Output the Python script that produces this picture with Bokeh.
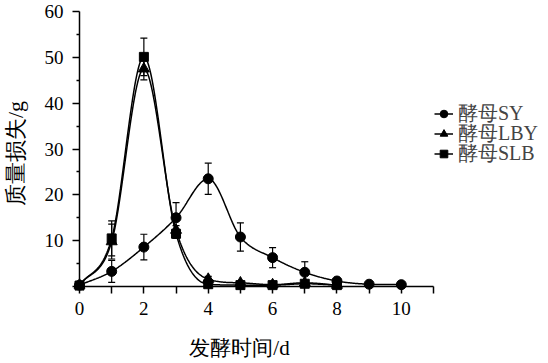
import numpy as np
from bokeh.plotting import figure
from bokeh.models import (Whisker, ColumnDataSource, Legend, LegendItem, FixedTicker,
                          Label, TeeHead, Range1d, LinearAxis)
from bokeh.embed import file_html
from bokeh.resources import INLINE

# ---- data ----
days_sy = [0, 1, 2, 3, 4, 5, 6, 7, 8, 9, 10]
sy = [0.3, 3.3, 8.6, 15.0, 23.5, 10.8, 6.3, 3.1, 1.2, 0.5, 0.4]
sy_err = [0.3, 2.4, 2.8, 3.3, 3.4, 3.1, 2.2, 2.3, 0.4, 0.2, 0.2]

days_b = [0, 1, 2, 3, 4, 5, 6, 7, 8]
lby = [0.3, 9.8, 47.5, 12.3, 1.6, 0.8, 0.4, 0.8, 0.3]
lby_err = [0.2, 3.8, 2.4, 1.0, 0.6, 0.4, 0.2, 0.3, 0.2]
slb = [0.2, 10.5, 50.1, 11.5, 0.5, 0.3, 0.3, 0.6, 0.3]
slb_err = [0.2, 3.8, 4.1, 1.0, 0.3, 0.2, 0.2, 0.2, 0.2]

names = ["酵母SY", "酵母LBY", "酵母SLB"]
x_ticks = [0, 1, 2, 3, 4, 5, 6, 7, 8, 9, 10, 11]
x_tick_labels = ["0", "", "2", "", "4", "", "6", "", "8", "", "10", ""]
y_ticks = [0, 10, 20, 30, 40, 50, 60]
y_tick_labels = ["", "10", "20", "30", "40", "50", "60"]
y_minor = [5, 15, 25, 35, 45, 55]
x_title = "发酵时间/d"
y_title = "质量损失/g"

FONT = "Liberation Serif"

# ---- layout (pixels inside the figure) ----
W, H = 548, 363
X0, X11 = 79, 433      # where x=0 and x=11 sit
Y0, Y60 = 286, 11      # where y=0 and y=60 sit
kx = (X11 - X0) / 11.0
ky = (Y0 - Y60) / 60.0


def dx(px):
    return (px - X0) / kx


def dy(py):
    return (Y0 - py) / ky


def smooth(x, y, n=40):
    """Monotone-limited cubic Hermite curve through the data points (for drawing)."""
    x = np.asarray(x, float)
    y = np.asarray(y, float)
    h = np.diff(x)
    d = np.diff(y) / h
    m = np.zeros_like(y)
    m[0] = d[0]
    m[-1] = d[-1]
    for k in range(1, len(x) - 1):
        if d[k - 1] * d[k] <= 0:
            m[k] = 0.0
        else:
            m[k] = (y[k + 1] - y[k - 1]) / (x[k + 1] - x[k - 1])
    for k in range(len(d)):
        if d[k] == 0:
            m[k] = m[k + 1] = 0.0
            continue
        a = m[k] / d[k]
        b = m[k + 1] / d[k]
        s = a * a + b * b
        if s > 9:
            t = 3.0 / np.sqrt(s)
            m[k] = t * a * d[k]
            m[k + 1] = t * b * d[k]
    xs, ys = [], []
    for k in range(len(d)):
        t = np.linspace(0, 1, n, endpoint=False)
        h00 = 2 * t**3 - 3 * t**2 + 1
        h10 = t**3 - 2 * t**2 + t
        h01 = -2 * t**3 + 3 * t**2
        h11 = t**3 - t**2
        xs.extend(x[k] + t * h[k])
        ys.extend(h00 * y[k] + h10 * h[k] * m[k] + h01 * y[k + 1] + h11 * h[k] * m[k + 1])
    xs.append(x[-1])
    ys.append(y[-1])
    return xs, ys


p = figure(width=W, height=H, output_backend="svg", toolbar_location=None,
           x_range=Range1d(dx(0), dx(W)), y_range=Range1d(dy(H), dy(0)),
           x_axis_type=None, y_axis_type=None, min_border=0)
p.outline_line_color = None
p.grid.visible = False
p.background_fill_color = "white"

xax = LinearAxis(fixed_location=0, bounds=(0, 11),
                 ticker=FixedTicker(ticks=x_ticks, minor_ticks=[]),
                 major_label_overrides={t: l for t, l in zip(x_ticks, x_tick_labels)})
yax = LinearAxis(fixed_location=0, bounds=(0, 60),
                 ticker=FixedTicker(ticks=y_ticks, minor_ticks=y_minor),
                 major_label_overrides={t: l for t, l in zip(y_ticks, y_tick_labels)})
for ax in (xax, yax):
    ax.axis_line_width = 1.5
    ax.axis_line_color = "black"
    ax.major_tick_line_color = "black"
    ax.major_tick_line_width = 1.5
    ax.minor_tick_line_color = "black"
    ax.minor_tick_line_width = 1.5
    ax.major_tick_in = 0
    ax.major_tick_out = 7
    ax.minor_tick_in = 0
    ax.minor_tick_out = 3
    ax.major_label_text_font = FONT
    ax.major_label_text_font_size = "19px"
    ax.major_label_text_color = "black"
xax.major_label_standoff = 8
yax.major_label_standoff = 9
p.add_layout(xax, "below")
p.add_layout(yax, "left")

p.add_layout(Label(x=dx(239), y=dy(347), text=x_title, text_font=FONT,
                   text_font_size="21px", text_color="black",
                   text_align="center", text_baseline="middle"))
p.add_layout(Label(x=dx(15), y=dy(153), text=y_title, text_font=FONT, angle=np.pi / 2,
                   text_font_size="22px", text_color="black",
                   text_align="center", text_baseline="middle"))

series = [
    (days_sy, sy, sy_err, "circle", 10),
    (days_b, lby, lby_err, "triangle", 11),
    (days_b, slb, slb_err, "square", 9),
]
legend_centers = [115, 135, 155]
for (xd, yd, ed, marker, size), name, cy in zip(series, names, legend_centers):
    src = ColumnDataSource(dict(x=xd, y=yd,
                                upper=[a + b for a, b in zip(yd, ed)],
                                lower=[a - b for a, b in zip(yd, ed)]))
    w = Whisker(base="x", upper="upper", lower="lower", source=src,
                line_color="black", line_width=1.2,
                upper_head=TeeHead(size=7, line_color="black", line_width=1.2),
                lower_head=TeeHead(size=7, line_color="black", line_width=1.2))
    p.add_layout(w)
    sx, syy = smooth(xd, yd)
    ln = p.line(sx, syy, line_color="black", line_width=1.5)
    mk = p.scatter("x", "y", source=src, marker=marker, size=size,
                   fill_color="black", line_color="black")
    lg = Legend(items=[LegendItem(label=name, renderers=[ln, mk])],
                location=(434, H - (cy + 11.5)), glyph_width=19, glyph_height=19,
                label_height=19, spacing=0, padding=0, margin=0, label_standoff=5,
                label_text_font=FONT, label_text_font_size="20px",
                border_line_color=None, background_fill_alpha=0)
    p.add_layout(lg, "center")

open("out.html", "w").write(file_html(p, INLINE))
